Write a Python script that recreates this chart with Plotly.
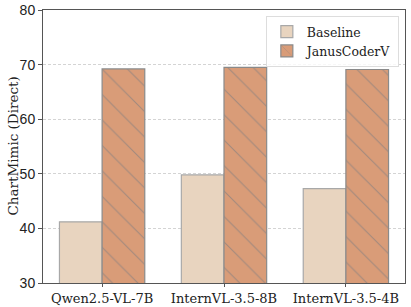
import plotly.graph_objects as go

categories = ["Qwen2.5-VL-7B", "InternVL-3.5-8B", "InternVL-3.5-4B"]
baseline = [41.2, 49.8, 47.3]
januscoder = [69.2, 69.5, 69.1]

FONT = "DejaVu Serif"
EDGE = "#8a8a8a"

fig = go.Figure()
fig.add_trace(go.Bar(
    x=categories, y=baseline, name="Baseline",
    marker=dict(color="#E8D4BF", line=dict(color="#a8a8a8", width=1.2)),
))
fig.add_trace(go.Bar(
    x=categories, y=januscoder, name="JanusCoderV",
    marker=dict(color="#D99C78", line=dict(color=EDGE, width=1.2),
                pattern=dict(shape="\\", fgcolor="#6a7682", size=18, solidity=0.06, fillmode="overlay")),
))

fig.update_layout(
    width=411, height=307,
    margin=dict(l=43, r=6, t=10, b=24),
    paper_bgcolor="white", plot_bgcolor="white",
    barmode="group", bargap=0.3, bargroupgap=0,
    font=dict(family=FONT, size=13, color="#222"),
    showlegend=True,
    legend=dict(x=0.983, y=0.978, xanchor="right", yanchor="top",
                bgcolor="rgba(255,255,255,0.8)", bordercolor="#dddddd", borderwidth=1,
                font=dict(family=FONT, size=12.5), tracegroupgap=0,
                itemwidth=30),
    xaxis=dict(range=[-0.485, 2.485], showline=True, linecolor="#555", linewidth=1,
               mirror=True, ticks="outside", ticklen=3, tickcolor="#555",
               tickfont=dict(size=13), showgrid=False, automargin=False),
    yaxis=dict(range=[30, 80], dtick=10, showline=True, linecolor="#555", linewidth=1,
               mirror=True, ticks="outside", ticklen=4, tickcolor="#555",
               tickfont=dict(size=14, family="Liberation Sans"), showgrid=True, gridcolor="#d4d4d4",
               griddash="3px,2px", gridwidth=0.8, zeroline=False, automargin=False),
    annotations=[dict(text="ChartMimic (Direct)", textangle=-90, xref="paper", yref="paper",
                      x=0, y=0.5, xanchor="center", yanchor="middle", xshift=-31,
                      showarrow=False, font=dict(family=FONT, size=13.5, color="#222"))],
)

post = ("document.documentElement.style.margin='0';document.body.style.margin='0';"
        "var d=document.getElementById('{plot_id}');"
        "d.style.position='absolute';d.style.left='0px';d.style.top='0px';")
fig.write_html("out.html", post_script=post, config={"displayModeBar": False})
